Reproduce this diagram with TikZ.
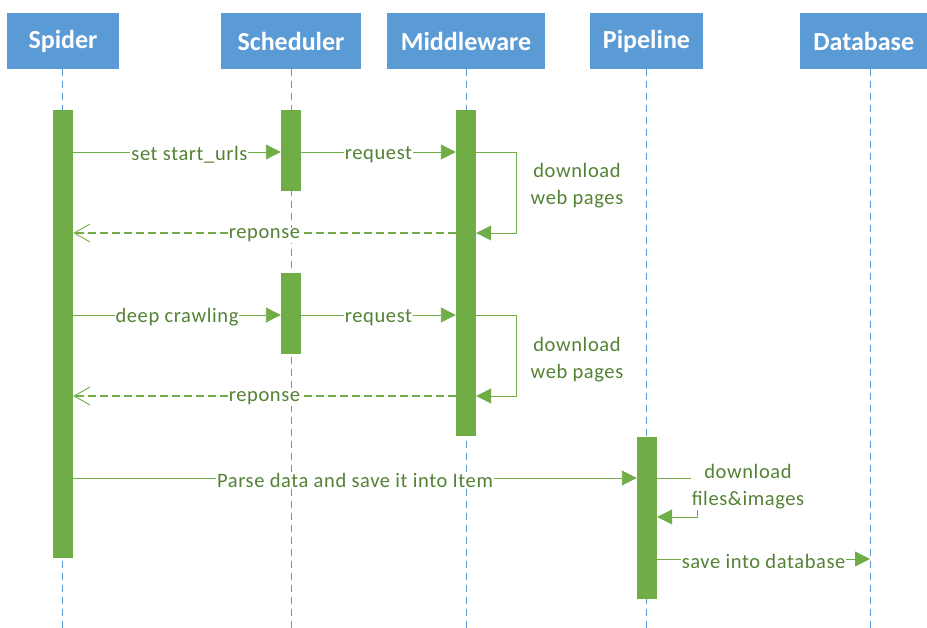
\documentclass[tikz,border=0pt]{standalone}
\usepackage{fontspec}
\setmainfont{Carlito}
\newfontfamily\lblfont[LetterSpace=3]{Carlito}
\usetikzlibrary{arrows.meta,positioning}
\definecolor{hdblue}{HTML}{5B9BD5}
\definecolor{actgreen}{HTML}{70AD47}
\definecolor{msggreen}{HTML}{548235}
\begin{document}
\begin{tikzpicture}[x=1pt,y=-1pt]
\tikzstyle{hd}=[fill=hdblue, text=white, font=\fontsize{26}{28}\selectfont\bfseries,
  minimum height=56pt, inner sep=0pt]
\tikzstyle{life}=[hdblue, dash pattern=on 7pt off 5pt, line width=0.9pt]
\tikzstyle{act}=[fill=actgreen, draw=none, minimum width=20pt, inner sep=0pt]
\tikzstyle{msg}=[actgreen, line width=0.9pt, -{Triangle[length=15pt,width=15pt]}]
\tikzstyle{ret}=[actgreen, line width=1.2pt, dash pattern=on 8pt off 4pt,
  -{Straight Barb[length=16pt,width=18pt,line width=0.9pt]}]
\tikzstyle{lbl}=[fill=white, text=msggreen, inner sep=1pt, yshift=-2.5pt,
  font=\lblfont\fontsize{20.5}{27}\selectfont]
\tikzstyle{lbl2}=[text=msggreen, align=center, inner sep=1pt,
  font=\lblfont\fontsize{20.5}{27}\selectfont]
\useasboundingbox (0,0) rectangle (927,628);
% headers
\node[hd, minimum width=112pt] (spider) at (63,41) {Spider};
\node[hd, minimum width=140pt] (sched) at (291,41) {Scheduler};
\node[hd, minimum width=158pt] (middle) at (466,41) {Middleware};
\node[hd, minimum width=113pt] (pipe) at (646.5,41) {Pipeline};
\node[hd, minimum width=127pt, anchor=west] (db) at (800,41) {Database};
% lifelines
\coordinate (spiderend) at (62,628);
\coordinate (schedend) at (291,628);
\coordinate (middleend) at (466,628);
\coordinate (pipeend) at (646,628);
\coordinate (dbend) at (870,628);
\draw[life] (62,69) -- (spiderend);
\draw[life] (291,69) -- (schedend);
\draw[life] (466,69) -- (middleend);
\draw[life] (646,69) -- (pipeend);
\draw[life] (870,69) -- (dbend);
% activations
\node[act, minimum height=448pt] (aspider) at (63,334) {};
\node[act, minimum height=81pt] (asched1) at (291,150.5) {};
\node[act, minimum height=81pt] (asched2) at (291,313.5) {};
\node[act, minimum height=326pt] (amiddle) at (466,273) {};
\node[act, minimum height=162pt] (apipe) at (647,518) {};
% first round
\draw[msg] (aspider.east |- 0,152) -- node[lbl, pos=0.56] {set start\_urls} (asched1.west |- 0,152);
\draw[msg] (asched1.east |- 0,152) -- node[lbl, pos=0.5] {request} (amiddle.west |- 0,152);
\coordinate (loop1) at (516,152);
\draw[msg] (amiddle.east |- 0,152) -- (loop1) -- (loop1 |- 0,233) -- (amiddle.east |- 0,233);
\node[lbl2] (dl1) at (577,186) {download\\web pages};
\draw[ret] (amiddle.west |- 0,233) -- node[lbl, pos=0.5] {reponse} (aspider.east |- 0,233);
% second round
\draw[msg] (aspider.east |- 0,315) -- node[lbl, pos=0.5] {deep crawling} (asched2.west |- 0,315);
\draw[msg] (asched2.east |- 0,315) -- node[lbl, pos=0.5] {request} (amiddle.west |- 0,315);
\coordinate (loop2) at (516,315);
\draw[msg] (amiddle.east |- 0,315) -- (loop2) -- (loop2 |- 0,396) -- (amiddle.east |- 0,396);
\node[lbl2] (dl2) at (577,360) {download\\web pages};
\draw[ret] (amiddle.west |- 0,396) -- node[lbl, pos=0.5] {reponse} (aspider.east |- 0,396);
% pipeline
\draw[msg] (aspider.east |- 0,478) -- node[lbl, pos=0.5] {Parse data and save it into Item} (apipe.west |- 0,478);
\coordinate (loop3) at (697,478);
\draw[msg] (apipe.east |- 0,478) -- (loop3) -- (loop3 |- 0,517) -- (apipe.east |- 0,517);
\node[lbl2, fill=white] (dl3) at (748,487) {download\\files\&images};
\draw[msg] (apipe.east |- 0,559) -- node[lbl, pos=0.5] {save into database} (dbend |- 0,559);
\end{tikzpicture}
\end{document}
